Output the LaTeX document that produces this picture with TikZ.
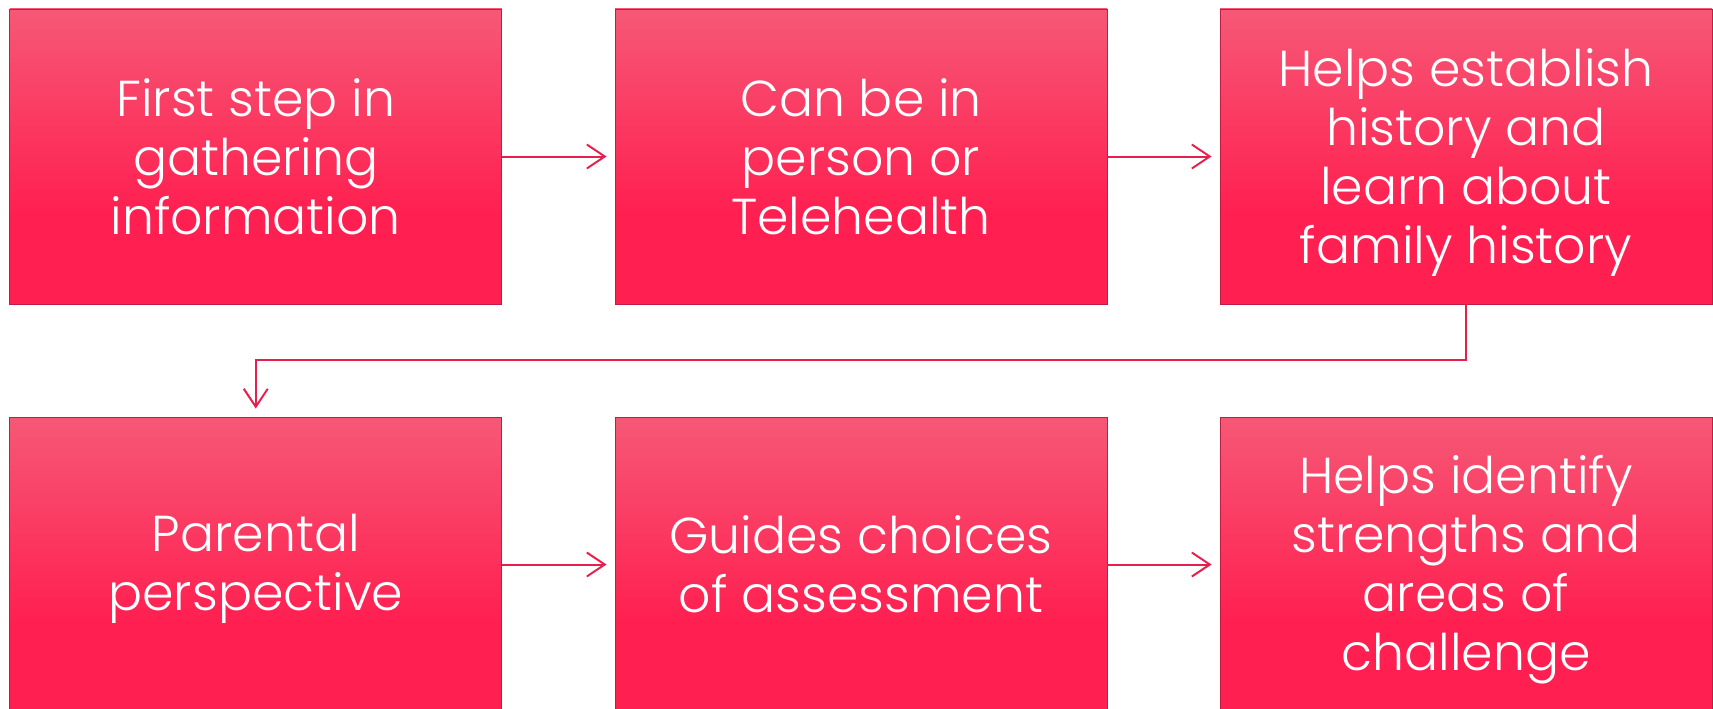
\documentclass[tikz,border=0pt]{standalone}
\usepackage{fontspec}
\setmainfont{Poppins}[UprightFont=* Light]
\usetikzlibrary{arrows.meta}

\definecolor{boxtop}{RGB}{246,88,118}
\definecolor{boxbot}{RGB}{255,31,80}
\definecolor{linkred}{RGB}{232,30,76}
\definecolor{boxedge}{RGB}{190,30,65}

% vertical gradient: saturated lower part, lighter top
\pgfdeclareverticalshading{stepshade}{100bp}{%
  color(0bp)=(boxbot); color(40bp)=(boxbot);
  color(75bp)=(boxtop); color(100bp)=(boxtop)}

\tikzset{
  stepbox/.style={rectangle, shading=stepshade, draw=boxedge, line width=0.8pt,
    minimum width=492pt, minimum height=295pt, inner sep=0pt},
  steptext/.style={text=white, align=center, inner sep=0pt,
    font=\fontsize{50.5}{59}\selectfont},
  link/.style={draw=linkred, line width=2pt,
    -{Straight Barb[length=18pt,width=24pt,line width=2pt]}},
}

\begin{document}
\begin{tikzpicture}[x=1pt,y=-1pt]
\useasboundingbox (0,0) rectangle (1713,709);

% step boxes
\node[stepbox] (s1) at (255.75,156.5) {};
\node[stepbox] (s2) at (861,156.5) {};
\node[stepbox] (s3) at (1466,156.5) {};
\node[stepbox] (s4) at (255.75,564.5) {};
\node[stepbox] (s5) at (861,564.5) {};
\node[stepbox] (s6) at (1466,564.5) {};

% box texts, nudged down where descenders would pull them off centre
\node[steptext] (t1) at (s1.center) {First step in\\gathering\\information};
\node[steptext] (t2) at (s2.center) {Can be in\\person or\\Telehealth};
\node[steptext, yshift=-5.5pt] (t3) at (s3.center) {Helps establish\\history and\\learn about\\family history};
\node[steptext, yshift=-4.5pt] (t4) at (s4.center) {Parental\\perspective};
\node[steptext] (t5) at (s5.center) {Guides choices\\of assessment};
\node[steptext, yshift=-5.5pt] (t6) at (s6.center) {Helps identify\\strengths and\\areas of\\challenge};

% connectors
\draw[link, shorten >=8pt] (s1.east) -- (s2.west);
\draw[link, shorten >=8pt] (s2.east) -- (s3.west);
\draw[link, shorten >=8pt] (s3.south) -- ++(0,56) -| (s4.north);
\draw[link, shorten >=8pt] (s4.east) -- (s5.west);
\draw[link, shorten >=8pt] (s5.east) -- (s6.west);
\end{tikzpicture}
\end{document}
